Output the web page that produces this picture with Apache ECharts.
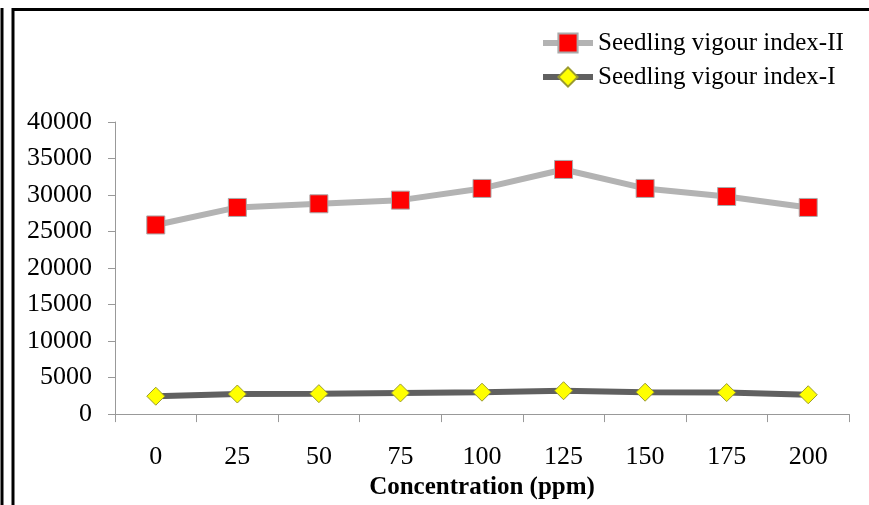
<!DOCTYPE html>
<html>
<head>
<meta charset="utf-8">
<script src="https://cdn.jsdelivr.net/npm/echarts@6/dist/echarts.min.js"></script>
<style>
html,body{margin:0;padding:0;background:#fff;}
#chart{width:869px;height:505px;}
</style>
</head>
<body>
<div id="chart"></div>
<script>
var categories = ['0','25','50','75','100','125','150','175','200'];
var vigourII = [25900, 28300, 28800, 29300, 30900, 33500, 30900, 29800, 28300];
var vigourI = [2450, 2750, 2800, 2900, 3000, 3200, 3000, 2950, 2650];
var yTicks = {min: 0, max: 40000, interval: 5000};

var FONT = "'Liberation Serif', 'Times New Roman', serif";
var chart = echarts.init(document.getElementById('chart'));
chart.setOption({
  animation: false,
  backgroundColor: '#fff',
  textStyle: {fontFamily: FONT, color: '#000'},
  graphic: [
    {type: 'line', shape: {x1: 2, y1: 8, x2: 2, y2: 510}, style: {stroke: '#000', lineWidth: 3}},
    {type: 'rect', shape: {x: 13, y: 9.5, width: 870, height: 510}, style: {stroke: '#000', fill: 'none', lineWidth: 3}}
  ],
  legend: {
    orient: 'vertical',
    left: 540,
    top: 30,
    padding: 0,
    itemWidth: 50,
    itemHeight: 24,
    itemGap: 8,
    lineStyle: {width: 6},
    textStyle: {fontFamily: FONT, fontSize: 25, color: '#000', lineHeight: 26},
    data: ['Seedling vigour index-II', 'Seedling vigour index-I']
  },
  grid: {left: 115, right: 20, top: 122, bottom: 88, containLabel: false},
  xAxis: {
    type: 'category',
    data: categories,
    boundaryGap: true,
    name: 'Concentration (ppm)',
    nameLocation: 'middle',
    nameGap: 58,
    nameTextStyle: {fontFamily: FONT, fontSize: 25, fontWeight: 'bold', color: '#000'},
    axisLine: {lineStyle: {color: '#999', width: 1}},
    axisTick: {show: true, length: 8, lineStyle: {color: '#999'}},
    axisLabel: {fontFamily: FONT, fontSize: 26, color: '#000', margin: 30}
  },
  yAxis: {
    type: 'value',
    min: yTicks.min,
    max: yTicks.max,
    interval: yTicks.interval,
    axisLine: {show: true, lineStyle: {color: '#999', width: 1}},
    axisTick: {show: true, length: 7, lineStyle: {color: '#999'}},
    splitLine: {show: false},
    axisLabel: {fontFamily: FONT, fontSize: 26, color: '#000', margin: 23, formatter: function (v) { return String(v); }}
  },
  series: [
    {
      name: 'Seedling vigour index-II',
      type: 'line',
      data: vigourII,
      symbol: 'rect',
      symbolSize: 18,
      lineStyle: {color: '#b3b3b3', width: 6},
      itemStyle: {color: '#ff0000', borderColor: '#aaaaaa', borderWidth: 1},
      z: 3
    },
    {
      name: 'Seedling vigour index-I',
      type: 'line',
      data: vigourI,
      symbol: 'diamond',
      symbolSize: 18,
      lineStyle: {color: '#606060', width: 6},
      itemStyle: {color: '#ffff00', borderColor: '#9a9a30', borderWidth: 1},
      z: 3
    }
  ]
});
</script>
</body>
</html>
